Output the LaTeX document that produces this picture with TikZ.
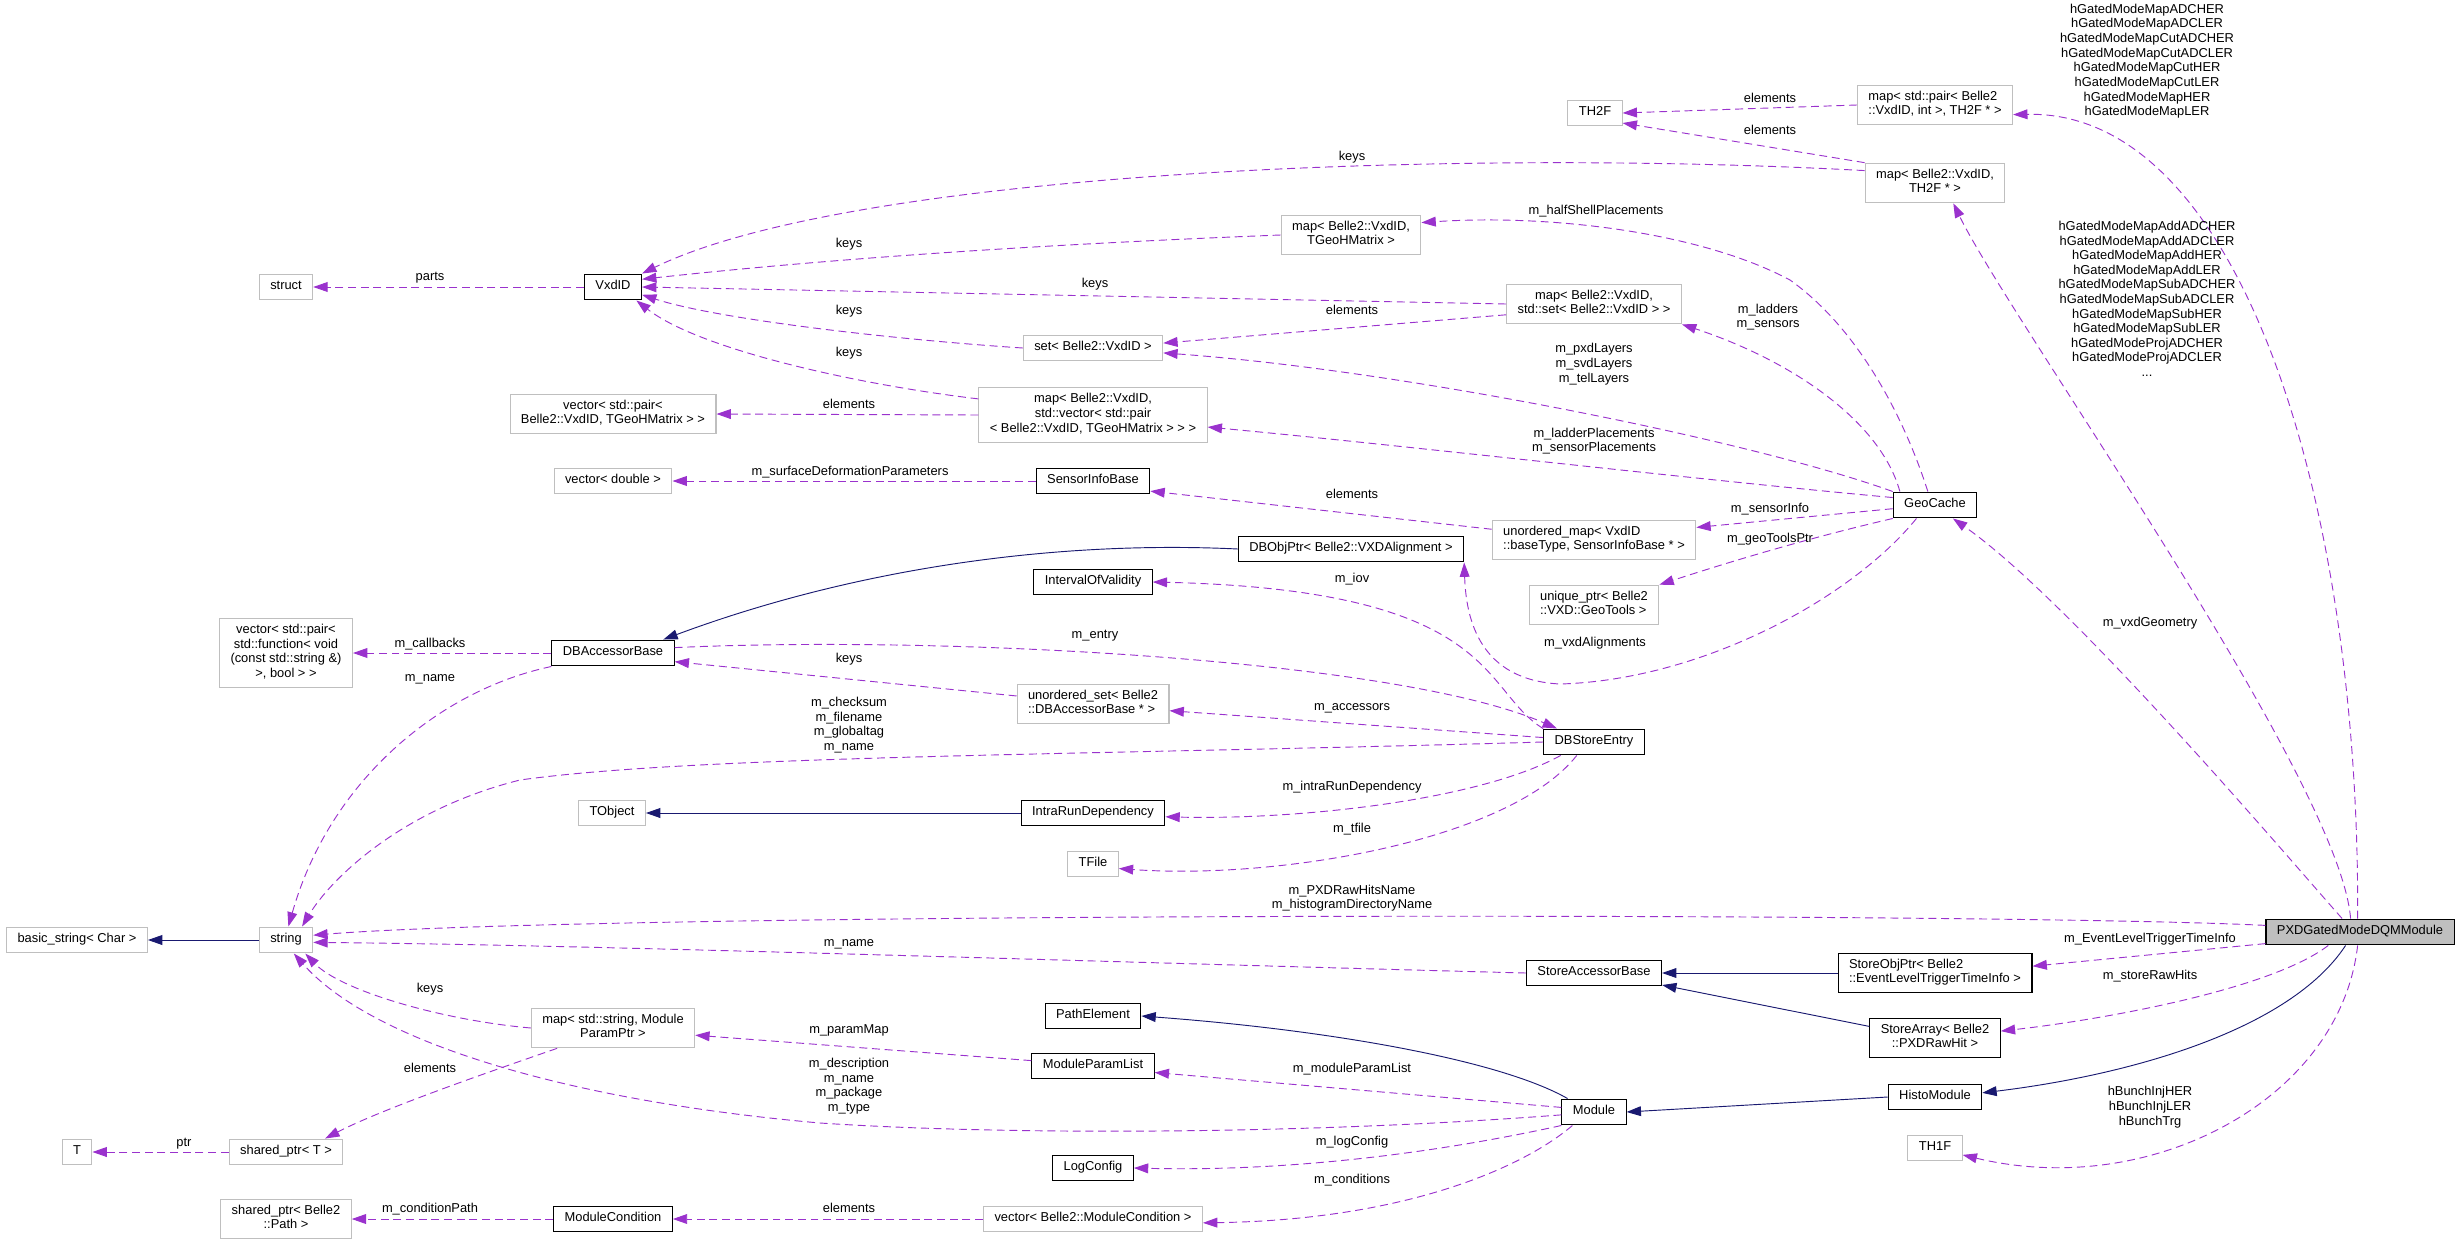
\documentclass[tikz,border=0pt]{standalone}
\usepackage{fontspec}
\setmainfont{Liberation Sans}
\usetikzlibrary{arrows.meta}
\definecolor{usecol}{HTML}{9A32CD}
\definecolor{inhcol}{HTML}{191970}
\definecolor{undoc}{HTML}{BFBFBF}
\tikzset{
  box/.style={draw, line width=0.8pt, inner xsep=2.9mm, inner ysep=4.25pt, align=center,
    font=\fontsize{9.7}{11}\selectfont, execute at begin node=\strut, execute at end node=\strut},
  cls/.style={box, draw=black},
  ext/.style={box, draw=undoc},
  lbl/.style={inner sep=0pt, align=center, font=\fontsize{9.7}{11}\selectfont,
    execute at begin node=\strut, execute at end node=\strut},
  uses/.style={draw=usecol, line width=0.7pt, dash pattern=on 2.1mm off 1.25mm,
    -{Triangle[length=3.8mm,width=2.6mm]}},
  inh/.style={draw=inhcol, line width=0.7pt, -{Triangle[length=3.8mm,width=2.6mm]}},
}
\begin{document}
\begin{tikzpicture}[x=0.2646mm, y=-0.2646mm]
  \useasboundingbox (0,0) rectangle (2459,1245);

  % classes, column by column
  \node[ext] (bstr) at (77,940) {basic\_string< Char >};
  \node[ext] (tt) at (77,1152) {T};

  \node[ext] (strct) at (286,287) {struct};
  \node[ext] (vcb) at (286,653) {vector< std::pair<\\ std::function< void\\ (const std::string \&)\\ >, bool > >};
  \node[ext] (str) at (286,940) {string};
  \node[ext] (sptr) at (286,1152) {shared\_ptr< T >};
  \node[ext] (spath) at (286,1219) {shared\_ptr< Belle2\\ ::Path >};

  \node[cls] (vxd) at (613,287) {VxdID};
  \node[ext] (vpair) at (613,414) {vector< std::pair<\\ Belle2::VxdID, TGeoHMatrix > >};
  \node[ext] (vdbl) at (613,481) {vector< double >};
  \node[cls] (dbab) at (613,653) {DBAccessorBase};
  \node[ext] (tobj) at (612,813) {TObject};
  \node[ext] (mstr) at (613,1028) {map< std::string, Module\\ ParamPtr >};
  \node[cls] (mcond) at (613,1219) {ModuleCondition};

  \node[ext] (setv) at (1093,348) {set< Belle2::VxdID >};
  \node[ext] (mvec) at (1093,415) {map< Belle2::VxdID,\\ std::vector< std::pair\\ < Belle2::VxdID, TGeoHMatrix > > >};
  \node[cls] (sib) at (1093,481) {SensorInfoBase};
  \node[cls] (iov) at (1093,582) {IntervalOfValidity};
  \node[ext, align=left] (uset) at (1093,704) {unordered\_set< Belle2\\ ::DBAccessorBase * >};
  \node[cls] (ird) at (1093,813) {IntraRunDependency};
  \node[ext] (tfile) at (1093,864) {TFile};
  \node[cls] (pathel) at (1093,1016) {PathElement};
  \node[cls] (mpl) at (1093,1066) {ModuleParamList};
  \node[cls] (logc) at (1093,1168) {LogConfig};
  \node[ext] (vmcond) at (1093,1219) {vector< Belle2::ModuleCondition >};

  \node[ext] (mtgeo) at (1351,235) {map< Belle2::VxdID,\\ TGeoHMatrix >};
  \node[cls] (dbobj) at (1351,549) {DBObjPtr< Belle2::VXDAlignment >};

  \node[ext] (th2f) at (1595,113) {TH2F};
  \node[ext] (mset) at (1594,304) {map< Belle2::VxdID,\\ std::set< Belle2::VxdID > >};
  \node[ext, align=left] (umap) at (1594,540) {unordered\_map< VxdID\\ ::baseType, SensorInfoBase * >};
  \node[ext, align=left] (uptr) at (1594,605) {unique\_ptr< Belle2\\ ::VXD::GeoTools >};
  \node[cls] (dbse) at (1594,742) {DBStoreEntry};
  \node[cls] (sab) at (1594,973) {StoreAccessorBase};
  \node[cls] (modl) at (1594,1112) {Module};

  \node[ext, align=left] (mpair) at (1935,105) {map< std::pair< Belle2\\ ::VxdID, int >, TH2F * >};
  \node[ext] (mth2f) at (1935,183) {map< Belle2::VxdID,\\ TH2F * >};
  \node[cls] (geo) at (1935,505) {GeoCache};
  \node[cls, align=left] (sop) at (1935,973) {StoreObjPtr< Belle2\\ ::EventLevelTriggerTimeInfo >};
  \node[cls] (sarr) at (1935,1038) {StoreArray< Belle2\\ ::PXDRawHit >};
  \node[cls] (histo) at (1935,1097) {HistoModule};
  \node[ext] (th1f) at (1935,1148) {TH1F};

  \node[cls, fill=undoc] (pxd) at (2360,932) {PXDGatedModeDQMModule};

  % VxdID containers
  \draw[uses] (vxd.west) -- (strct.east);
  \draw[uses] (mpair.west) -- (th2f.east);
  \draw[uses] (mth2f.north west) -- (th2f.-20);
  \draw[uses] (mth2f.170) .. controls (1450,148) and (850,172) .. (vxd.north east);
  \draw[uses] (mtgeo.west) .. controls (1000,246) and (800,262) .. (vxd.15);
  \draw[uses] (mset.west) -- (vxd.east);
  \draw[uses] (mset.187) -- (setv.4);
  \draw[uses] (setv.west) .. controls (900,340) and (720,320) .. (vxd.-15);
  \draw[uses] (mvec.172) .. controls (860,385) and (700,350) .. (vxd.-30);
  \draw[uses] (mvec.west) -- (vpair.east);

  % GeoCache members
  \draw[uses] (geo.118) .. controls (1905,420) and (1860,330) .. (1790,280)
    .. controls (1700,232) and (1550,214) .. (mtgeo.10);
  \draw[uses] (geo.159) .. controls (1880,420) and (1790,360) .. (mset.south east);
  \draw[uses] (geo.north west) .. controls (1750,440) and (1400,370) .. (setv.-4);
  \draw[uses] (geo.170) .. controls (1700,480) and (1400,445) .. (mvec.-6);
  \draw[uses] (geo.185) -- (umap.7);
  \draw[uses] (geo.south west) .. controls (1800,540) and (1720,565) .. (uptr.north east);
  \draw[uses] (geo.216) .. controls (1850,600) and (1700,680) .. (1560,684)
    .. controls (1480,680) and (1466,620) .. (dbobj.south east);

  % conditions database
  \draw[inh] (dbobj.west) .. controls (1050,540) and (850,570) .. (dbab.15);
  \draw[uses] (umap.174) -- (sib.-10);
  \draw[uses] (sib.west) -- (vdbl.east);
  \draw[uses] (dbab.west) -- (vcb.east);
  \draw[uses] (dbab.south west) .. controls (440,690) and (330,780) .. (str.80);
  \draw[uses] (dbab.5) .. controls (950,635) and (1400,660) .. (dbse.160);
  \draw[uses] (uset.174) -- (dbab.-8);
  \draw[uses] (dbse.175) -- (uset.-5);
  \draw[uses] (dbse.north west) .. controls (1480,690) and (1500,590) .. (iov.east);
  \draw[uses] (dbse.west) .. controls (1100,755) and (700,755) .. (520,780)
    .. controls (400,810) and (330,880) .. (str.40);
  \draw[uses] (dbse.202) .. controls (1480,800) and (1300,820) .. (ird.-3);
  \draw[uses] (dbse.218) .. controls (1510,840) and (1280,880) .. (tfile.-10);
  \draw[inh] (ird.west) -- (tobj.east);

  % framework classes
  \draw[inh] (str.west) -- (bstr.east);
  \draw[uses] (sab.west) .. controls (1100,962) and (600,945) .. (str.-5);
  \draw[inh] (sop.west) -- (sab.east);
  \draw[inh] (sarr.170) -- (sab.-10);
  \draw[inh] (histo.west) -- (modl.east);
  \draw[inh] (modl.153) .. controls (1500,1060) and (1330,1030) .. (pathel.east);
  \draw[uses] (modl.172) -- (mpl.-6);
  \draw[uses] (modl.185) .. controls (1300,1135) and (1000,1135) .. (820,1123)
    .. controls (560,1100) and (370,1040) .. (str.-60);
  \draw[uses] (modl.south west) .. controls (1450,1150) and (1300,1172) .. (logc.east);
  \draw[uses] (modl.212) .. controls (1520,1170) and (1400,1220) .. (vmcond.-2);
  \draw[uses] (mpl.175) -- (mstr.-5);
  \draw[uses] (mstr.west) .. controls (440,1020) and (340,990) .. (str.-35);
  \draw[uses] (mstr.200) .. controls (480,1075) and (380,1110) .. (sptr.19);
  \draw[uses] (sptr.west) -- (tt.east);
  \draw[uses] (vmcond.west) -- (mcond.east);
  \draw[uses] (mcond.west) -- (spath.east);

  % the module itself
  \draw[uses] (pxd.143) .. controls (2290,860) and (2070,600) .. (geo.-37);
  \draw[uses] (pxd.125) .. controls (2340,780) and (2010,320) .. (mth2f.-48);
  \draw[uses] (pxd.100) .. controls (2360,500) and (2240,110) .. (mpair.-7);
  \draw[uses] (pxd.176) .. controls (2000,912) and (600,912) .. (str.10);
  \draw[uses] (pxd.187) -- (sop.4);
  \draw[uses] (pxd.203) .. controls (2270,990) and (2100,1020) .. (sarr.6);
  \draw[inh] (pxd.223) .. controls (2290,1030) and (2130,1075) .. (histo.5);
  \draw[uses] (pxd.260) .. controls (2340,1100) and (2150,1200) .. (th1f.-14);

  % edge labels
  \node[lbl] (l-parts) at (430,278) {parts};
  \node[lbl] (l-el1) at (1770,100) {elements};
  \node[lbl] (l-el2) at (1770,132) {elements};
  \node[lbl] (l-keys1) at (1352,158) {keys};
  \node[lbl] (l-keys2) at (849,245) {keys};
  \node[lbl] (l-half) at (1596,212) {m\_halfShellPlacements};
  \node[lbl] (l-keys3) at (1095,285) {keys};
  \node[lbl] (l-keys4) at (849,312) {keys};
  \node[lbl] (l-el3) at (1352,312) {elements};
  \node[lbl] (l-ladders) at (1768,318) {m\_ladders\\m\_sensors};
  \node[lbl] (l-layers) at (1594,365) {m\_pxdLayers\\m\_svdLayers\\m\_telLayers};
  \node[lbl] (l-keys5) at (849,354) {keys};
  \node[lbl] (l-el4) at (849,406) {elements};
  \node[lbl] (l-place) at (1594,442) {m\_ladderPlacements\\m\_sensorPlacements};
  \node[lbl] (l-surf) at (850,473) {m\_surfaceDeformationParameters};
  \node[lbl] (l-el5) at (1352,496) {elements};
  \node[lbl] (l-sinfo) at (1770,510) {m\_sensorInfo};
  \node[lbl] (l-gtools) at (1770,540) {m\_geoToolsPtr};
  \node[lbl] (l-iov) at (1352,580) {m\_iov};
  \node[lbl] (l-vxdgeo) at (2150,624) {m\_vxdGeometry};
  \node[lbl] (l-entry) at (1095,636) {m\_entry};
  \node[lbl] (l-align) at (1595,644) {m\_vxdAlignments};
  \node[lbl] (l-cb) at (430,645) {m\_callbacks};
  \node[lbl] (l-keys6) at (849,660) {keys};
  \node[lbl] (l-name1) at (430,679) {m\_name};
  \node[lbl] (l-acc) at (1352,708) {m\_accessors};
  \node[lbl] (l-cksum) at (849,726) {m\_checksum\\m\_filename\\m\_globaltag\\m\_name};
  \node[lbl] (l-intra) at (1352,788) {m\_intraRunDependency};
  \node[lbl] (l-tfile) at (1352,830) {m\_tfile};
  \node[lbl] (l-hits) at (1352,899) {m\_PXDRawHitsName\\m\_histogramDirectoryName};
  \node[lbl] (l-trg) at (2150,940) {m\_EventLevelTriggerTimeInfo};
  \node[lbl] (l-name2) at (849,944) {m\_name};
  \node[lbl] (l-raw) at (2150,977) {m\_storeRawHits};
  \node[lbl] (l-keys7) at (430,990) {keys};
  \node[lbl] (l-pmap) at (849,1031) {m\_paramMap};
  \node[lbl] (l-el6) at (430,1070) {elements};
  \node[lbl] (l-desc) at (849,1087) {m\_description\\m\_name\\m\_package\\m\_type};
  \node[lbl] (l-mpl) at (1352,1070) {m\_moduleParamList};
  \node[lbl] (l-bunch) at (2150,1108) {hBunchInjHER\\hBunchInjLER\\hBunchTrg};
  \node[lbl] (l-log) at (1352,1143) {m\_logConfig};
  \node[lbl] (l-ptr) at (184,1144) {ptr};
  \node[lbl] (l-cond) at (1352,1181) {m\_conditions};
  \node[lbl] (l-el7) at (849,1210) {elements};
  \node[lbl] (l-cpath) at (430,1210) {m\_conditionPath};
  \node[lbl] (l-maps) at (2147,62) {hGatedModeMapADCHER\\hGatedModeMapADCLER\\hGatedModeMapCutADCHER\\hGatedModeMapCutADCLER\\hGatedModeMapCutHER\\hGatedModeMapCutLER\\hGatedModeMapHER\\hGatedModeMapLER};
  \node[lbl] (l-addmaps) at (2147,301) {hGatedModeMapAddADCHER\\hGatedModeMapAddADCLER\\hGatedModeMapAddHER\\hGatedModeMapAddLER\\hGatedModeMapSubADCHER\\hGatedModeMapSubADCLER\\hGatedModeMapSubHER\\hGatedModeMapSubLER\\hGatedModeProjADCHER\\hGatedModeProjADCLER\\...};
\end{tikzpicture}
\end{document}
